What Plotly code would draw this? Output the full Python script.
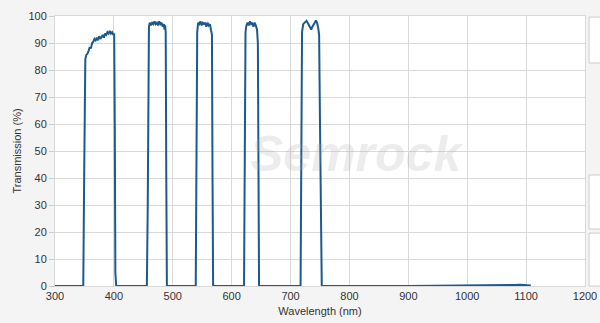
import plotly.graph_objects as go

wavelength = [300, 348, 349.5, 350.5, 351.5, 353, 355, 357, 359, 361, 363, 365, 367, 369, 371, 373, 375, 377,
              379, 381, 383, 385, 387, 389, 391, 393, 395, 397, 399, 400.5, 401.5, 402.5, 404,
              456, 457.5, 458.5, 459.5, 461, 463, 465, 467, 469, 471, 473, 475, 477, 479, 481, 483, 485, 486,
              487, 488, 489, 490,
              539, 540.5, 541.5, 543, 545, 547, 549, 551, 553, 555, 557, 559, 561, 563, 565, 566.5, 567.5, 568.5,
              621, 622.5, 623.5, 625, 627, 629, 631, 633, 635, 637, 639, 641, 643, 644.5, 645.5, 646.5,
              717, 718.5, 719.5, 721.5, 724, 727, 729, 731, 733, 735, 737, 739, 741, 743, 745, 747, 748.5,
              750, 751.5, 753,
              900, 1000, 1060, 1080, 1090, 1100, 1108]
transmission = [0, 0, 40, 80, 84, 85.5, 86, 87, 88.5, 88, 90, 90.5, 91.5, 91, 92, 91, 92.5, 91.5,
                92.5, 93, 92, 93.5, 93, 94, 93.5, 94.5, 93.5, 94, 93, 93.5, 60, 5, 0,
                0, 30, 90, 96, 97.5, 96.5, 97.5, 97, 98, 97, 97.5, 96.5, 98, 97, 97.5, 96, 97, 95,
                96.5, 94, 40, 0,
                0, 40, 94, 97.5, 97, 98, 96.5, 97.5, 97, 97.5, 96, 97.5, 96.5, 97, 94, 93, 40, 0,
                0, 40, 94, 96.5, 97.5, 96.5, 98, 97, 97.5, 96, 97.5, 96.5, 95, 90, 40, 0,
                0, 40, 94, 97, 97.5, 98.2, 97.5, 96.5, 95.5, 95, 96, 97, 97.5, 98.3, 97.5, 95.5, 93,
                60, 10, 0,
                0, 0.1, 0.2, 0.4, 0.5, 0.4, 0.2]

x_ticks = [300, 400, 500, 600, 700, 800, 900, 1000, 1100, 1200]
y_ticks = [0, 10, 20, 30, 40, 50, 60, 70, 80, 90, 100]

fig = go.Figure()
fig.add_trace(go.Scatter(x=wavelength, y=transmission, mode="lines",
                         line=dict(color="#1b5a8c", width=2), showlegend=False, hoverinfo="skip"))

font = dict(family="Liberation Sans, Arial, sans-serif", size=11, color="#333333")

fig.update_layout(
    width=600, height=323,
    margin=dict(l=55, r=15, t=16, b=37, autoexpand=False),
    paper_bgcolor="#f4f4f4",
    plot_bgcolor="#ffffff",
    font=font,
    xaxis=dict(range=[300, 1200], tickvals=x_ticks, showgrid=True, gridcolor="#d9d9d9", gridwidth=1,
               zeroline=False, showline=True, linecolor="#d9d9d9", mirror=True, automargin=False,
               title=dict(text="Wavelength (nm)", font=font, standoff=6), ticks="", tickfont=font),
    yaxis=dict(range=[0, 100], tickvals=y_ticks, showgrid=True, gridcolor="#d9d9d9", gridwidth=1,
               zeroline=False, showline=True, linecolor="#d9d9d9", mirror=True, automargin=False,
               title=dict(text="Transmission (%)", font=font, standoff=4),
               ticks="outside", ticklen=5, tickcolor="#cccccc", tickfont=font),
    annotations=[dict(x=812, y=49, xref="x", yref="y", text="<b><i>Semrock</i></b>", showarrow=False,
                      font=dict(family="Liberation Sans, Arial, sans-serif", size=50,
                                color="rgba(170,170,170,0.22)"))],
    shapes=[
        dict(type="rect", xref="paper", yref="paper", x0=1.0075, x1=1.04, y0=0.826, y1=0.996,
             line=dict(color="#cccccc", width=1), fillcolor="#ffffff", layer="below"),
        dict(type="rect", xref="paper", yref="paper", x0=1.0075, x1=1.04, y0=0.211, y1=0.411,
             line=dict(color="#cccccc", width=1), fillcolor="#ffffff", layer="below"),
        dict(type="rect", xref="paper", yref="paper", x0=1.0075, x1=1.04, y0=0.0, y1=0.196,
             line=dict(color="#cccccc", width=1), fillcolor="#ffffff", layer="below"),
    ],
)

fig.write_html("out.html")
